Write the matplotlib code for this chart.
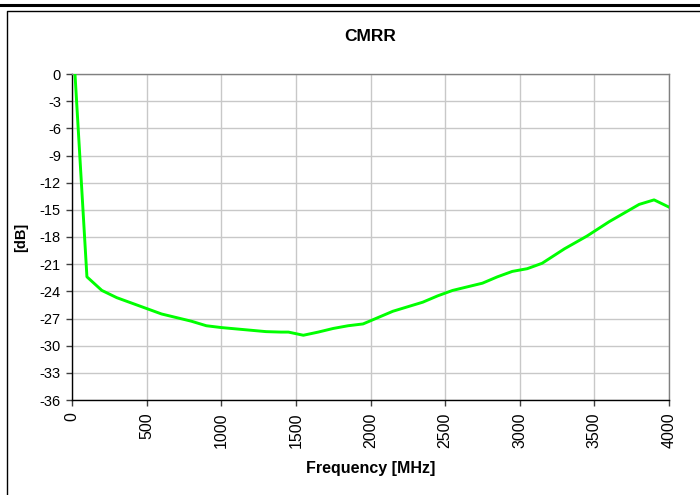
import matplotlib
matplotlib.use("Agg")
import matplotlib.pyplot as plt
from matplotlib.lines import Line2D

plt.rcParams['font.family'] = ['Liberation Sans', 'DejaVu Sans']
plt.rcParams['axes.unicode_minus'] = False

# CMRR curve
freq_mhz = [20, 100, 200, 300, 400, 500, 600, 700, 800, 900, 1000, 1100, 1200,
            1300, 1400, 1450, 1550, 1650, 1750, 1850, 1950, 2050, 2150, 2250,
            2350, 2450, 2550, 2650, 2750, 2850, 2950, 3050, 3150, 3300, 3450,
            3600, 3800, 3900, 4000]
cmrr_db = [0, -22.4, -23.9, -24.7, -25.3, -25.9, -26.5, -26.9, -27.3, -27.8,
           -28.0, -28.15, -28.3, -28.45, -28.5, -28.5, -28.85, -28.5, -28.1,
           -27.8, -27.6, -26.9, -26.2, -25.7, -25.2, -24.5, -23.9, -23.5,
           -23.1, -22.4, -21.8, -21.5, -20.9, -19.3, -17.9, -16.3, -14.4,
           -13.9, -14.7]

y_ticks = list(range(0, -37, -3))
x_ticks = list(range(0, 4001, 500))

fig = plt.figure(figsize=(7, 4.95), dpi=100)
ax = fig.add_axes([72 / 700, 1 - 400 / 495, 597 / 700, 326 / 495])

ax.plot(freq_mhz, cmrr_db, color='#00ff00', lw=2.1, zorder=3)

ax.set_xlim(0, 4000)
ax.set_ylim(-36, 0)
ax.set_xticks(x_ticks)
ax.set_yticks(y_ticks)
ax.set_xticklabels([str(v) for v in x_ticks], rotation=90, fontsize=11.5)
ax.set_yticklabels([str(v) for v in y_ticks], fontsize=10.5)
ax.tick_params(direction='out', length=4, width=1, color='#404040')
ax.tick_params(axis='y', pad=4)
ax.tick_params(axis='x', pad=5)
ax.grid(True, color='#c8c8c8', lw=1)
ax.set_axisbelow(True)

for s in ('left', 'bottom'):
    ax.spines[s].set_color('black')
    ax.spines[s].set_linewidth(1)
for s in ('top', 'right'):
    ax.spines[s].set_color('#808080')
    ax.spines[s].set_linewidth(1)

ax.set_title("CMRR", fontsize=12.5, fontweight='bold', pad=24)
ax.set_xlabel("Frequency [MHz]", fontsize=11.5, fontweight='bold', labelpad=9)
ax.set_ylabel("[dB]", fontsize=10.5, fontweight='bold', labelpad=8)

# frame around the chart
fig.add_artist(Line2D([0, 1], [1 - 4.5 / 495] * 2, transform=fig.transFigure,
                      color='black', lw=2.2))
fig.add_artist(Line2D([7 / 700, 7 / 700, 1], [0, 1 - 11 / 495, 1 - 11 / 495],
                      transform=fig.transFigure, color='black', lw=1))

fig.savefig("out.png", dpi=100)
